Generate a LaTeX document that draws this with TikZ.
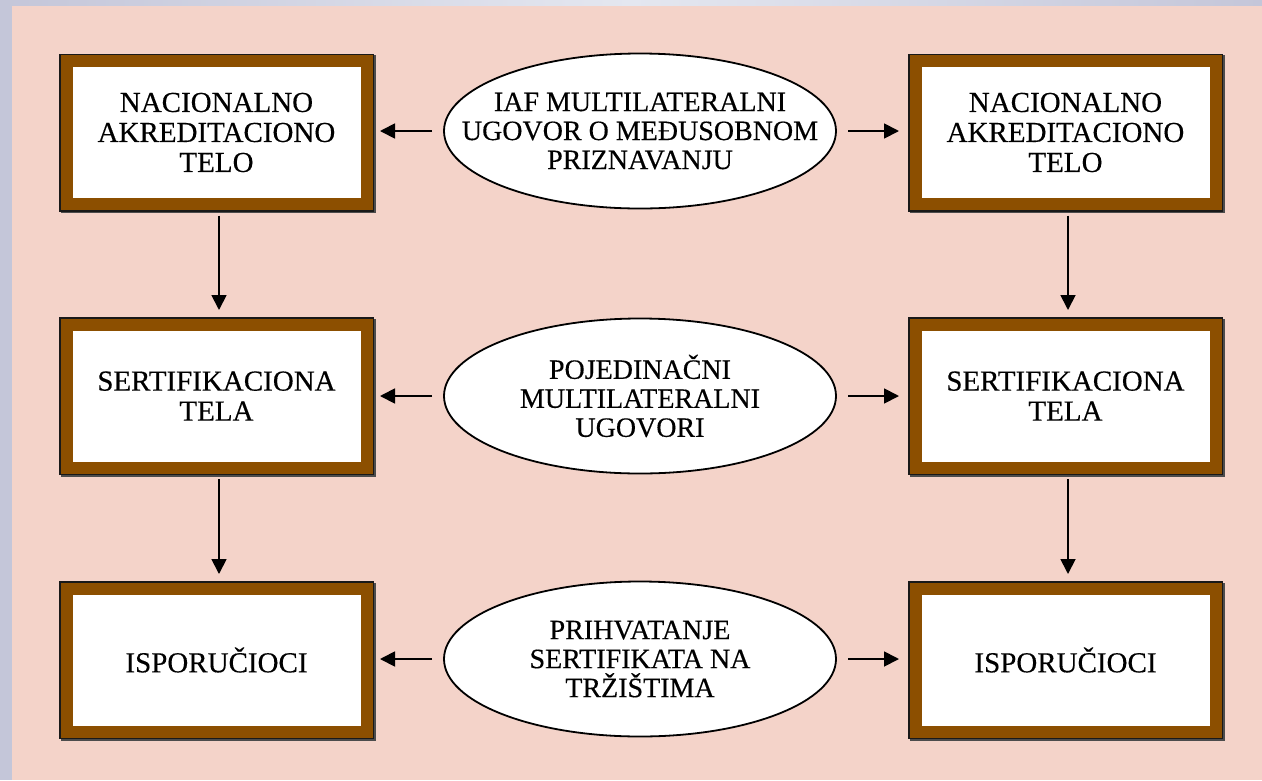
\documentclass[tikz,border=0pt]{standalone}
\usepackage{fontspec}
\setmainfont{Liberation Serif}
\newfontface\heavy{Liberation Serif}[FakeBold=0.35]
\usetikzlibrary{arrows.meta,shapes.geometric}
\definecolor{panel}{HTML}{F4D3C9}
\definecolor{frame}{HTML}{8C4F00}
\definecolor{bgblue}{HTML}{C4C6D9}
\definecolor{bglight}{HTML}{E4E7F0}
\begin{document}
\begin{tikzpicture}[x=1pt,y=-1pt,
  txt/.style={align=center, font=\heavy\fontsize{29}{30}\selectfont},
  box/.style={txt, rectangle, fill=white, draw=frame, line width=12pt,
    minimum width=300pt, minimum height=143pt, inner sep=0pt, outer sep=7.5pt,
    preaction={draw=black!70, line width=15pt, transform canvas={shift={(1.5pt,-1.5pt)}}},
    preaction={draw=black!90, line width=15pt}},
  oval/.style={ellipse, fill=white, draw=black, line width=1.8pt,
    minimum width=392pt, minimum height=155pt, inner sep=0pt, outer sep=1pt},
  ovaltext/.style={align=center, font=\heavy\fontsize{28}{29}\selectfont, inner sep=0pt},
  arr/.style={-{Triangle[length=15pt,width=15pt]}, line width=1.8pt}]
\useasboundingbox (0,0) rectangle (1262,780);
\fill[bgblue] (0,0) rectangle (1262,780);
\shade[left color=bgblue, right color=bgblue, middle color=bglight] (0,0) rectangle (1262,6);
\fill[panel] (12,6) rectangle (1262,780);
% boxes
\node[box] (a1) at (216.5,132.5) {NACIONALNO\\AKREDITACIONO\\TELO};
\node[box] (a2) at (1065.5,132.5) {NACIONALNO\\AKREDITACIONO\\TELO};
\node[box] (b1) at (216.5,396) {SERTIFIKACIONA\\TELA};
\node[box] (b2) at (1065.5,396) {SERTIFIKACIONA\\TELA};
\node[box] (c1) at (216.5,660) {ISPORUČIOCI};
\node[box] (c2) at (1065.5,660) {ISPORUČIOCI};
% ellipses
\node[oval] (e1) at (640,131) {};
\node[ovaltext] (t1) at (e1.center) {IAF MULTILATERALNI\\UGOVOR O MEĐUSOBNOM\\PRIZNAVANJU};
\node[oval] (e2) at (640,396) {};
\node[ovaltext] (t2) at (e2.center) {POJEDINAČNI\\MULTILATERALNI\\UGOVORI};
\node[oval] (e3) at (640,659) {};
\node[ovaltext] (t3) at (e3.center) {PRIHVATANJE\\SERTIFIKATA NA\\TRŽIŠTIMA};
% horizontal arrows
\foreach \e/\l/\r in {e1/a1/a2, e2/b1/b2, e3/c1/c2}{
  \draw[arr, shorten <=11pt, shorten >=6pt] (\e.west) -- (\e.west -| \l.east);
  \draw[arr, shorten <=11pt, shorten >=9pt] (\e.east) -- (\e.east -| \r.west);
}
% vertical arrows
\foreach \u/\d in {a1/b1, b1/c1, a2/b2, b2/c2}{
  \draw[arr, shorten <=4pt, shorten >=7pt] ([xshift=2.5pt]\u.south) -- ([xshift=2.5pt]\d.north);
}
\end{tikzpicture}
\end{document}
